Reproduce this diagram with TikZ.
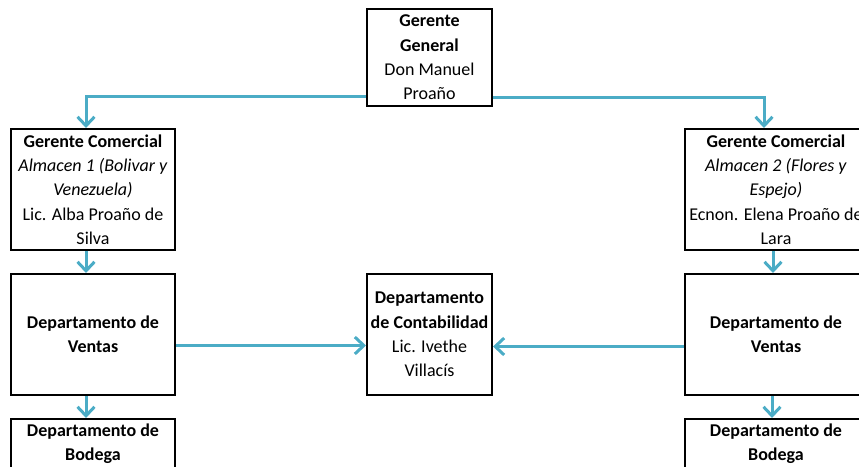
\documentclass[tikz,border=0pt]{standalone}
\usepackage{fontspec}
\setmainfont{Carlito}
\usetikzlibrary{arrows.meta}
\definecolor{conn}{HTML}{4BACC6}
\begin{document}
\begin{tikzpicture}[x=1pt,y=1pt,
  box/.style={draw=black,line width=2pt,align=center,
    font=\fontsize{18}{24.3}\selectfont,inner sep=0pt},
  arr/.style={draw=conn,line width=3pt,-{Straight Barb[length=9pt,width=17pt]}}]
\useasboundingbox (0,0) rectangle (859,466);
\clip (0,0) rectangle (859,466);
\node[box,minimum width=125pt,minimum height=97pt] (gg) at (429.5,408.5)
  {\textbf{Gerente}\\\textbf{General}\\Don Manuel\\Proaño};
\node[box,minimum width=164pt,minimum height=121pt] (gc1) at (93,276.5)
  {\textbf{Gerente Comercial}\\\textit{Almacen 1 (Bolivar y}\\\textit{Venezuela)}\\Lic. Alba Proaño de\\Silva};
\node[box,minimum width=182pt,minimum height=121pt] (gc2) at (776,276.5)
  {\textbf{Gerente Comercial}\\\textit{Almacen 2 (Flores y}\\\textit{Espejo)}\\Ecnon. Elena Proaño de\\Lara};
\node[box,minimum width=164pt,minimum height=121pt] (v1) at (93,131.5)
  {\textbf{Departamento de}\\\textbf{Ventas}};
\node[box,minimum width=182pt,minimum height=121pt] (v2) at (776,131.5)
  {\textbf{Departamento de}\\\textbf{Ventas}};
\node[box,minimum width=125pt,minimum height=121pt] (conta) at (429.5,131.5)
  {\textbf{Departamento}\\\textbf{de Contabilidad}\\Lic. Ivethe\\Villacís};
\node[box,minimum width=164pt,minimum height=49pt] (b1) at (93,22.5)
  {\textbf{Departamento de}\\\textbf{Bodega}};
\node[box,minimum width=182pt,minimum height=49pt] (b2) at (776,22.5)
  {\textbf{Departamento de}\\\textbf{Bodega}};
\draw[arr] ([yshift=10pt]gg.south west) -| ([xshift=-7pt]gc1.north);
\draw[arr] ([yshift=9pt]gg.south east) -| ([xshift=-12pt]gc2.north);
\draw[arr] ([xshift=-7pt]gc1.south) -- ([xshift=-7pt]v1.north);
\draw[arr] ([xshift=-3pt]gc2.south) -- ([xshift=-3pt]v2.north);
\draw[arr] ([xshift=-7pt]v1.south) -- ([xshift=-7pt]b1.north);
\draw[arr] ([xshift=-4pt]v2.south) -- ([xshift=-4pt]b2.north);
\draw[arr] ([yshift=-11pt]v1.east) -- ([yshift=-11pt]conta.west);
\draw[arr] ([yshift=-12pt]v2.west) -- ([yshift=-12pt]conta.east);
\end{tikzpicture}
\end{document}
